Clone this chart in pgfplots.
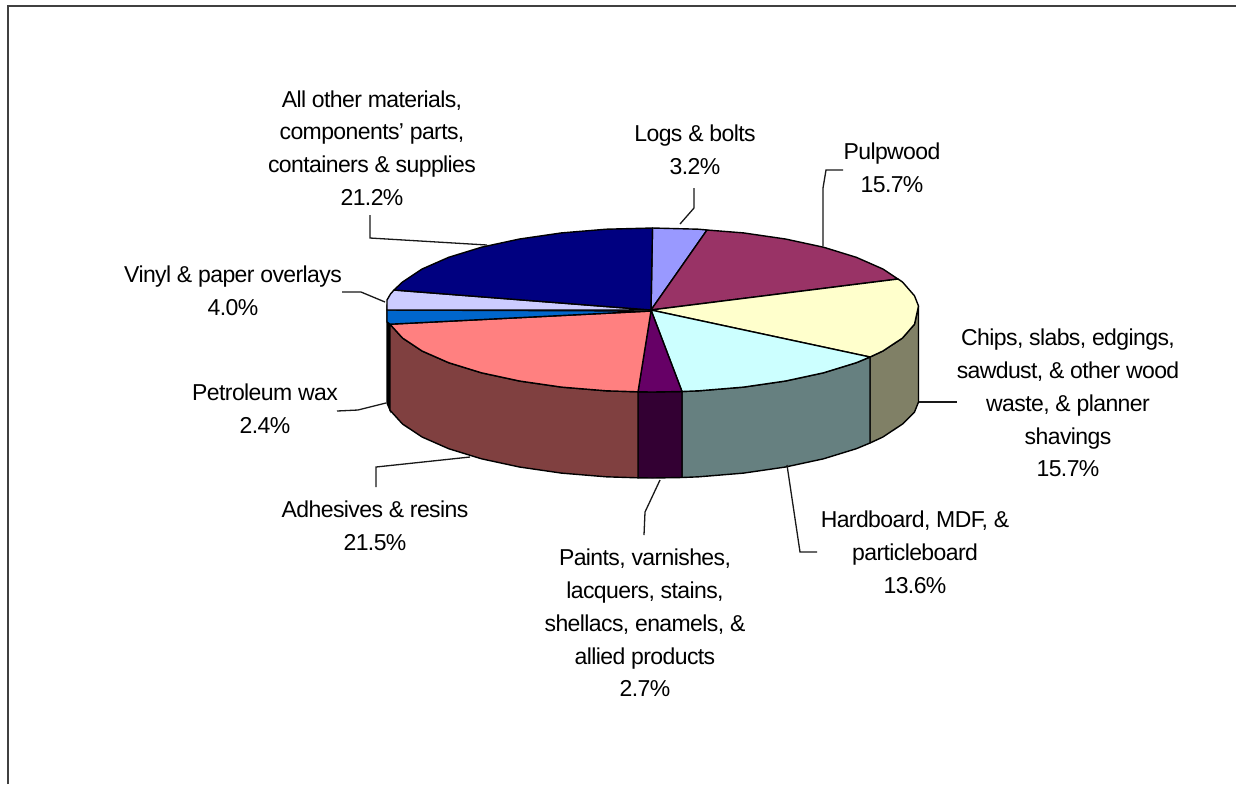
\documentclass[border=0pt]{standalone}
\usepackage{pgfplots}
\pgfplotsset{compat=1.18}
\usepackage{fontspec}
\setmainfont[LetterSpace=-2.6]{Liberation Sans}

\definecolor{logs}{HTML}{9999FF}
\definecolor{pulp}{HTML}{993366}
\definecolor{chips}{HTML}{FFFFCC}
\definecolor{hard}{HTML}{CCFFFF}
\definecolor{paints}{HTML}{660066}
\definecolor{adhes}{HTML}{FF8080}
\definecolor{petro}{HTML}{0066CC}
\definecolor{vinyl}{HTML}{CCCCFF}
\definecolor{other}{HTML}{000080}
\definecolor{frame}{HTML}{404040}

\tikzset{
    sector/.style={draw=black, line width=0.7pt, line join=round},
    leader/.style={draw=black!90, line width=0.65pt},
    lab/.style={align=center, inner sep=0pt, text=black,
        font=\fontsize{11.5}{16.4}\selectfont},
}

\begin{document}
\begin{tikzpicture}
\begin{axis}[
    scale only axis,
    width=618pt, height=392pt,
    xmin=0, xmax=1236,
    ymin=0, ymax=784,
    y dir=reverse,
    axis lines=none,
    no markers,
]
% page background and frame
\addplot[draw=none, fill=white] coordinates {(0,0)(1236,0)(1236,784)(0,784)} --cycle;
\addplot[draw=frame, line width=1.3pt] coordinates {(8,784)(8,6)(1236,6)};

% side faces
\addplot[sector, fill=chips!50!black] coordinates {(918.5,306)(914.5,324.2)(902.5,338)(882.9,351)(870,357)(870,443)(882.9,437)(902.5,424)(914.5,412)(918.5,402)} --cycle;
\addplot[sector, fill=hard!50!black] coordinates {(870,357)(856.3,362.7)(823.5,372.8)(785.5,381)(743.5,387.1)(698.7,390.8)(682,391.5)(682,477.5)(698.7,476.8)(743.5,473.1)(785.5,467)(823.5,458.8)(856.3,448.7)(870,443)} --cycle;
\addplot[sector, fill=paints!50!black] coordinates {(682,391.5)(652.5,392)(638,391.8)(638,477.8)(652.5,478)(682,477.5)} --cycle;
\addplot[fill=black, draw=black, line width=0.7pt] coordinates {(390,324.2)(387,310)(387,403)(390,410)} --cycle;
\addplot[sector, fill=adhes!50!black] coordinates {(638,391.8)(606.3,390.8)(561.5,387.1)(519.5,381)(481.5,372.8)(448.7,362.7)(422.1,351)(402.5,338)(390,324.2)(390,410.2)(402.5,424)(422.1,437)(448.7,448.7)(481.5,458.8)(519.5,467)(561.5,473.1)(606.3,476.8)(638,477.8)} --cycle;

% top faces
\addplot[sector, fill=logs] coordinates {(651,310)(652.5,228)(698.7,229.2)(707,230)} --cycle;
\addplot[sector, fill=pulp] coordinates {(651,310)(707,230)(743.5,232.9)(785.5,239)(823.5,247.2)(856.3,257.3)(882.9,269)(898,279)} --cycle;
\addplot[sector, fill=chips] coordinates {(651,310)(898,279)(902.5,282)(914.5,295.8)(918.5,306)(914.5,324.2)(902.5,338)(882.9,351)(870,357)} --cycle;
\addplot[sector, fill=hard] coordinates {(651,310)(870,357)(856.3,362.7)(823.5,372.8)(785.5,381)(743.5,387.1)(698.7,390.8)(682,391.5)} --cycle;
\addplot[sector, fill=paints] coordinates {(651,310)(682,391.5)(652.5,392)(638,391.8)} --cycle;
\addplot[sector, fill=adhes] coordinates {(651,311)(638,391.8)(606.3,390.8)(561.5,387.1)(519.5,381)(481.5,372.8)(448.7,362.7)(422.1,351)(402.5,338)(390,324.2)} --cycle;
\addplot[sector, fill=petro] coordinates {(651,311)(390,324.2)(387,322)(387,310)} --cycle;
\addplot[sector, fill=vinyl] coordinates {(651,310)(387,310)(387,300)(390.5,294)(394,290)} --cycle;
\addplot[sector, fill=other] coordinates {(651,310)(394,290)(402.5,282)(422.1,269)(448.7,257.3)(481.5,247.2)(519.5,239)(561.5,232.9)(606.3,229.2)(652.5,228)} --cycle;

% leader lines
\addplot[leader] coordinates {(680,224)(694,208)(694,188)};
\addplot[leader] coordinates {(823,246)(823,188)(826,170)(843,170)};
\addplot[leader] coordinates {(919,402)(957,402)};
\addplot[leader] coordinates {(787,465)(800,552)(817,552)};
\addplot[leader] coordinates {(660,480)(645,512)(644,535)};
\addplot[leader] coordinates {(470,457)(376,467)(376,487)};
\addplot[leader] coordinates {(386,403)(358,410)(337,411)};
\addplot[leader] coordinates {(385,302)(361,292)(342,292)};
\addplot[leader] coordinates {(487,245)(370,238)(370,215)};

% labels
\node[lab] at (axis cs:372,148) {All other materials,\\components' parts,\\containers \& supplies\\21.2\%};
\node[lab] at (axis cs:695,150) {Logs \& bolts\\3.2\%};
\node[lab] at (axis cs:892,168) {Pulpwood\\15.7\%};
\node[lab] at (axis cs:1068,403) {Chips, slabs, edgings,\\sawdust, \& other wood\\waste, \& planner\\shavings\\15.7\%};
\node[lab] at (axis cs:915,552) {Hardboard, MDF, \&\\particleboard\\13.6\%};
\node[lab] at (axis cs:645,623) {Paints, varnishes,\\lacquers, stains,\\shellacs, enamels, \&\\allied products\\2.7\%};
\node[lab] at (axis cs:375,526) {Adhesives \& resins\\21.5\%};
\node[lab] at (axis cs:265,409) {Petroleum wax\\2.4\%};
\node[lab] at (axis cs:233,291) {Vinyl \& paper overlays\\4.0\%};
\end{axis}
\end{tikzpicture}
\end{document}
